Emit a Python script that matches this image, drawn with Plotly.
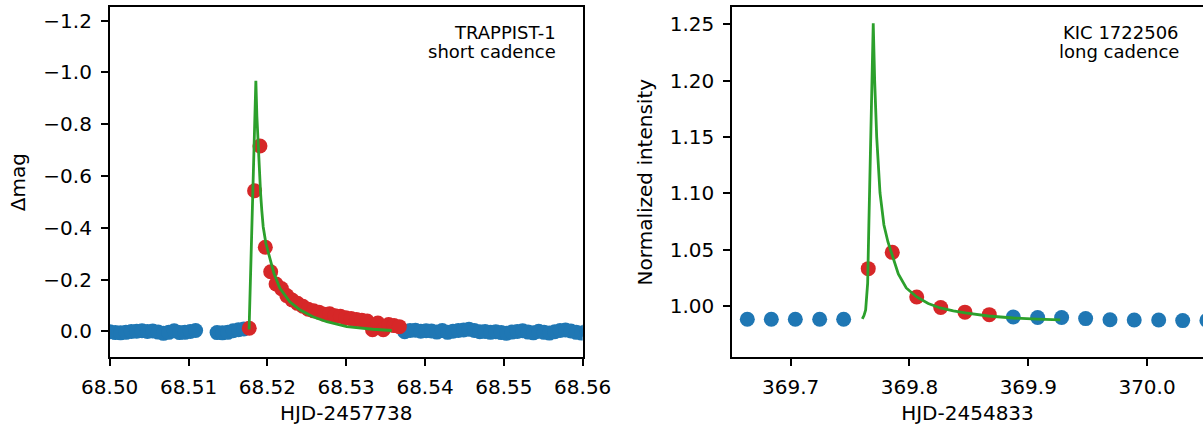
import plotly.graph_objects as go

# ---------------- Left panel: TRAPPIST-1 short cadence ----------------
left_blue_x = [68.50002, 68.50070, 68.50138, 68.50206, 68.50274, 68.50342, 68.50410,
               68.50478, 68.50546, 68.50614, 68.50682, 68.50750, 68.50818, 68.50886,
               68.50954, 68.51022, 68.51090,
               68.51362, 68.51430, 68.51498, 68.51566, 68.51634, 68.51702,
               68.53742, 68.53810, 68.53878, 68.53946, 68.54014, 68.54082, 68.54150,
               68.54218, 68.54286, 68.54354, 68.54422, 68.54490, 68.54558, 68.54626,
               68.54694, 68.54762, 68.54830, 68.54898, 68.54966, 68.55034, 68.55102,
               68.55170, 68.55238, 68.55306, 68.55374, 68.55442, 68.55510, 68.55578,
               68.55646, 68.55714, 68.55782, 68.55850, 68.55918, 68.55986, 68.56054]
left_blue_y = [0.002, 0.005, 0.006, 0.004, 0.001, 0.000, -0.002,
               0.001, -0.001, 0.003, 0.008, 0.004, -0.002, 0.005,
               0.004, 0.001, -0.003,
               0.005, 0.006, 0.004, -0.002, -0.006, -0.009,
               0.002, -0.003, -0.004, 0.000, -0.002, -0.001, 0.003,
               -0.003, 0.004, 0.000, -0.003, -0.005, -0.008, -0.003,
               0.002, 0.001, 0.004, 0.002, 0.005, 0.008, 0.003,
               0.001, -0.002, 0.003, 0.006, 0.000, 0.004, 0.007,
               0.002, -0.003, -0.005, -0.001, 0.004, 0.007, -0.002]

left_red_x = [68.51770, 68.51838, 68.51906, 68.51974, 68.52042, 68.52110, 68.52178,
              68.52246, 68.52314, 68.52382, 68.52450, 68.52518, 68.52586, 68.52654,
              68.52722, 68.52790, 68.52858, 68.52926, 68.52994, 68.53062, 68.53130,
              68.53198, 68.53266, 68.53334, 68.53402, 68.53470, 68.53538, 68.53606,
              68.53674]
left_red_y = [-0.012, -0.543, -0.716, -0.325, -0.230, -0.183, -0.165,
              -0.138, -0.121, -0.108, -0.097, -0.085, -0.079, -0.074,
              -0.066, -0.068, -0.060, -0.058, -0.052, -0.049, -0.046,
              -0.043, -0.040, -0.006, -0.032, -0.006, -0.026, -0.022,
              -0.018]

left_model_x = [68.51768, 68.51854, 68.51867, 68.51883, 68.51899, 68.51914, 68.51930,
                68.51947, 68.51981, 68.52032, 68.52083, 68.52159, 68.52285, 68.52412,
                68.52577, 68.52754, 68.53008, 68.53337, 68.53578]
left_model_y = [-0.007, -0.968, -0.831, -0.713, -0.618, -0.533, -0.464,
                -0.404, -0.340, -0.278, -0.224, -0.166, -0.114, -0.083,
                -0.056, -0.037, -0.018, -0.008, -0.003]

left_xticks = [68.50, 68.51, 68.52, 68.53, 68.54, 68.55, 68.56]
left_xticklabels = ["68.50", "68.51", "68.52", "68.53", "68.54", "68.55", "68.56"]
left_yticks = [0.0, -0.2, -0.4, -0.6, -0.8, -1.0, -1.2]
left_yticklabels = ["0.0", "\u22120.2", "\u22120.4", "\u22120.6", "\u22120.8", "\u22121.0", "\u22121.2"]

# ---------------- Right panel: KIC 1722506 long cadence ----------------
right_blue_x = [369.6635, 369.6837, 369.7039, 369.7244, 369.7446,
                369.8874, 369.9079, 369.9281, 369.9483, 369.9688, 369.9892,
                370.0098, 370.0300, 370.0504]
right_blue_y = [0.9882, 0.9882, 0.9882, 0.9882, 0.9882,
                0.9902, 0.9897, 0.9897, 0.9888, 0.9878, 0.9876,
                0.9876, 0.9870, 0.9872]

right_red_x = [369.7653, 369.7855, 369.8061, 369.8263, 369.8467, 369.8672]
right_red_y = [1.0331, 1.0476, 1.0080, 0.9986, 0.9945, 0.9923]

right_model_x = [369.7603, 369.7617, 369.7631, 369.7648, 369.7659, 369.7668, 369.7682,
                 369.7695, 369.7707, 369.7724, 369.7752, 369.7785, 369.7819, 369.7853,
                 369.7906, 369.7973, 369.8061, 369.8158, 369.8259, 369.8369, 369.8470,
                 369.8663, 369.8874, 369.9076, 369.9269]
right_model_y = [0.9885, 0.9915, 0.9964, 1.0202, 1.0764, 1.1237, 1.2125,
                 1.2510, 1.1998, 1.1501, 1.1003, 1.0719, 1.0568, 1.0462,
                 1.0284, 1.0160, 1.0080, 1.0022, 0.9982, 0.9956, 0.9938,
                 0.9911, 0.9893, 0.9883, 0.9876]

right_xticks = [369.7, 369.8, 369.9, 370.0]
right_xticklabels = ["369.7", "369.8", "369.9", "370.0"]
right_yticks = [1.00, 1.05, 1.10, 1.15, 1.20, 1.25]
right_yticklabels = ["1.00", "1.05", "1.10", "1.15", "1.20", "1.25"]

BLUE = "#1f77b4"
RED = "#d62728"
GREEN = "#2ca02c"
MS = 15
FONT = "DejaVu Sans"

fig = go.Figure()
fig.add_trace(go.Scatter(x=left_blue_x, y=left_blue_y, mode="markers",
                         marker=dict(color=BLUE, size=MS), xaxis="x", yaxis="y"))
fig.add_trace(go.Scatter(x=left_red_x, y=left_red_y, mode="markers",
                         marker=dict(color=RED, size=MS), xaxis="x", yaxis="y"))
fig.add_trace(go.Scatter(x=left_model_x, y=left_model_y, mode="lines",
                         line=dict(color=GREEN, width=2.8), xaxis="x", yaxis="y"))
fig.add_trace(go.Scatter(x=right_blue_x, y=right_blue_y, mode="markers",
                         marker=dict(color=BLUE, size=MS), xaxis="x2", yaxis="y2"))
fig.add_trace(go.Scatter(x=right_red_x, y=right_red_y, mode="markers",
                         marker=dict(color=RED, size=MS), xaxis="x2", yaxis="y2"))
fig.add_trace(go.Scatter(x=right_model_x, y=right_model_y, mode="lines",
                         line=dict(color=GREEN, width=2.8), xaxis="x2", yaxis="y2"))

W, H = 1203, 425
ydom = [1 - 357 / H, 1 - 7.3 / H]

common = dict(showgrid=False, zeroline=False, showline=True, linecolor="black",
              linewidth=1.6, ticks="outside", ticklen=7, tickwidth=1.6,
              tickcolor="black", tickfont=dict(family=FONT, size=20, color="black"),
              automargin=False)

fig.update_layout(
    width=W, height=H,
    margin=dict(l=0, r=0, t=0, b=0),
    paper_bgcolor="white", plot_bgcolor="white",
    showlegend=False,
    font=dict(family=FONT, color="black"),
    xaxis=dict(domain=[109.7 / W, 582.7 / W], range=[68.50, 68.56],
               tickvals=left_xticks, ticktext=left_xticklabels, mirror=True,
               anchor="y", ticklabelstandoff=4,
               title=dict(text="HJD-2457738", font=dict(family=FONT, size=20, color="black"),
                          standoff=8),
               **common),
    yaxis=dict(domain=ydom, range=[0.0993, -1.2518],
               tickvals=left_yticks, ticktext=left_yticklabels, mirror=True,
               anchor="x", ticklabelstandoff=5,
               title=dict(text="\u0394mag", font=dict(family=FONT, size=20, color="black"),
                          standoff=12),
               **common),
    xaxis2=dict(domain=[732 / W, 1.0], range=[369.6506, 370.0471],
                tickvals=right_xticks, ticktext=right_xticklabels, mirror=True,
                anchor="y2", ticklabelstandoff=4,
                title=dict(text="HJD-2454833", font=dict(family=FONT, size=20, color="black"),
                           standoff=8),
                **common),
    yaxis2=dict(domain=ydom, range=[0.9547, 1.2651],
                tickvals=right_yticks, ticktext=right_yticklabels, mirror=False,
                anchor="x2", ticklabelstandoff=5,
                title=dict(text="Normalized intensity",
                           font=dict(family=FONT, size=20, color="black"), standoff=12),
                **common),
)

notes = [
    (558 / W, 1 - 32 / H, "TRAPPIST-1"),
    (558 / W, 1 - 52 / H, "short cadence"),
    (1181 / W, 1 - 32 / H, "KIC 1722506"),
    (1181 / W, 1 - 52 / H, "long cadence"),
]
for x, y, t in notes:
    fig.add_annotation(x=x, y=y, xref="paper", yref="paper", text=t, showarrow=False,
                       xanchor="right", yanchor="middle",
                       font=dict(family=FONT, size=18, color="black"))

fig.write_html("out.html")
